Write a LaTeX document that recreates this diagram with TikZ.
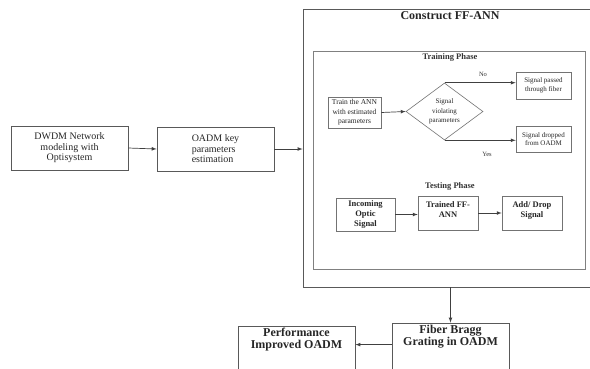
\documentclass[tikz,border=0pt]{standalone}
\usepackage{fontspec}
\setmainfont{Liberation Serif}
\usetikzlibrary{shapes.geometric,arrows}

\begin{document}
\begin{tikzpicture}[x=1pt,y=-1pt,
      block/.style={
        draw=black!65, line width=0.8pt, text=black!85, align=center, inner sep=1pt
      },
      small/.style={
        block, draw=black!55, line width=0.6pt, font=\fontsize{7}{8.5}\selectfont
      },
      phase/.style={
        block, draw=black!55, line width=0.6pt, font=\bfseries\fontsize{8.5}{10}\selectfont
      },
      big/.style={
        block, font=\bfseries\fontsize{12}{12}\selectfont
      },
      flow/.style={
        -latex, black!75, line width=0.7pt
      }
    ]
    \clip (0,0) rectangle (590,368);
    \fill[white] (0,0) rectangle (590,368);

    \node [block, minimum width=117pt, minimum height=44pt, font=\fontsize{10}{10.5}\selectfont] (dwdm) at (69.5,148) {DWDM Network\\modeling with\\Optisystem};
    \node [block, minimum width=117pt, minimum height=44pt, align=left, font=\fontsize{10}{10.5}\selectfont] (oadm) at (215.5,149) {OADM key\\parameters\\estimation};

    \node [block, minimum width=300pt, minimum height=278pt] (ffann) at (453,148) {};
    \node [text=black!85, font=\bfseries\fontsize{12}{12}\selectfont] (ffanntitle) at (450,16) {Construct FF-ANN};
    \node [draw=black!50, line width=0.6pt, minimum width=272pt, minimum height=218pt] (training) at (449,160) {};
    \node [text=black!80, font=\bfseries\fontsize{8.5}{10}\selectfont] (traintitle) at (450,57) {Training Phase};

    \node [small, minimum width=53pt, minimum height=31pt, font=\fontsize{7.5}{9.5}\selectfont] (train) at (354.5,112.5) {Train the ANN\\with estimated\\parameters};
    \node [small, diamond, aspect=1.35, minimum width=77pt, minimum height=57pt, inner sep=0pt, font=\fontsize{7}{9.5}\selectfont] (violate) at (444.5,111.5) {Signal\\violating\\parameters};
    \node [small, minimum width=55pt, minimum height=27pt] (passed) at (543.5,85.5) {Signal passed\\through fiber};
    \node [small, minimum width=55pt, minimum height=26pt] (dropped) at (543.5,139) {Signal dropped\\from OADM};
    \node [text=black!80, font=\fontsize{6.5}{8}\selectfont] (no) at (483,74) {No};
    \node [text=black!80, font=\fontsize{6.5}{8}\selectfont] (yes) at (487,154) {Yes};

    \node [text=black!80, font=\bfseries\fontsize{8.5}{10}\selectfont] (testtitle) at (450,186) {Testing Phase};
    \node [phase, minimum width=59pt, minimum height=33pt] (incoming) at (365.5,214.5) {Incoming\\Optic\\Signal};
    \node [phase, minimum width=60pt, minimum height=34pt, text depth=6pt] (trained) at (448,213) {Trained FF-\\ANN};
    \node [phase, minimum width=60pt, minimum height=34pt, text depth=6pt] (adddrop) at (532,213) {Add/ Drop\\Signal};

    \node [big, minimum width=117pt, minimum height=60pt, text depth=36pt] (fbg) at (450.5,353) {Fiber Bragg\\Grating in OADM};
    \node [big, minimum width=117pt, minimum height=60pt, text depth=36pt] (perf) at (296.5,356) {Performance\\Improved OADM};

    \draw [flow] (dwdm.east) -- (oadm.west);
    \draw [flow] (oadm.east) -- (oadm.east -| ffann.west);
    \draw [flow] (train.east) -- (violate.west);
    \draw [flow] (violate.north) -- (violate.north -| passed.west);
    \draw [flow] (violate.south) -- (violate.south -| dropped.west);
    \draw [flow] (incoming.east) -- (incoming.east -| trained.west);
    \draw [flow] (trained.east) -- (adddrop.west);
    \draw [flow] (fbg.north |- ffann.south) -- (fbg.north);
    \draw [flow] ([yshift=-22pt]fbg.north west) -- ([yshift=-22pt]fbg.north west -| perf.east);
  \end{tikzpicture}
\end{document}
